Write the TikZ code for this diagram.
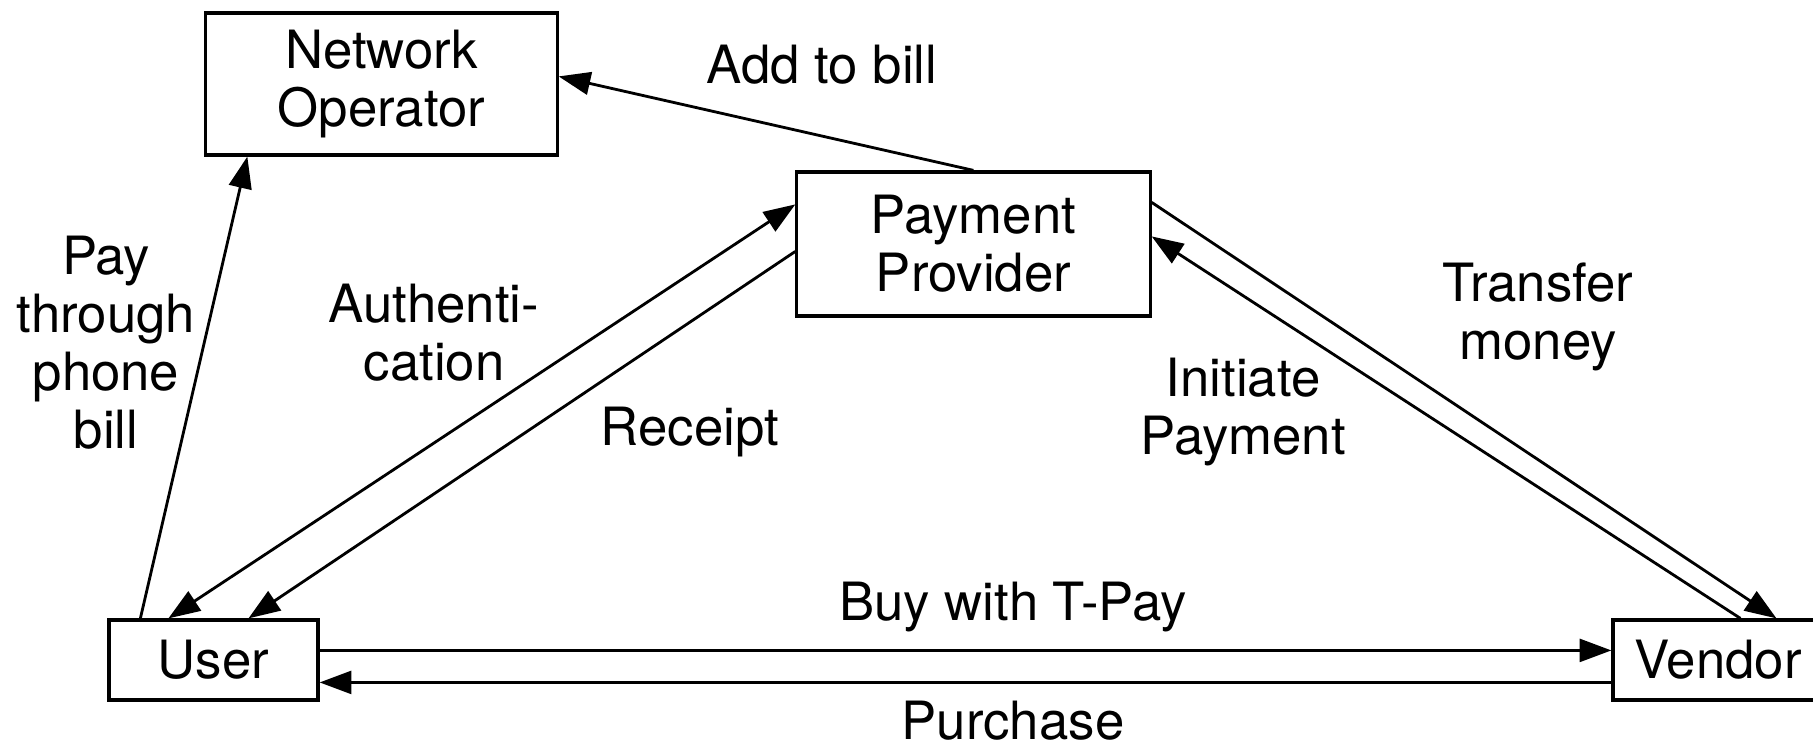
\documentclass[tikz,border=0pt]{standalone}
\usepackage{fontspec}
\setmainfont{TeX Gyre Heros}
\usetikzlibrary{arrows.meta}
\tikzset{%
  tipA/.tip={Triangle[length=9pt,width=6.5pt]},
  party/.style={draw, line width=0.9pt, inner sep=0pt, align=center},
  lbl/.style={align=center, inner sep=0pt}
}

\begin{document}
\begin{tikzpicture}[x=0.01cm,y=-0.01cm,font=\fontsize{15}{16.5}\selectfont]
\useasboundingbox (0,0) rectangle (1813,746);
\node[party, minimum width=3.51cm, minimum height=1.42cm] (oper) at (381.5,84) {Network\\Operator};
\node[party, minimum width=3.53cm, minimum height=1.44cm] (prov) at (973.5,244) {Payment\\Provider};
\node[party, minimum width=2.09cm, minimum height=0.8cm] (user) at (213.5,660) {User};
\node[party, minimum width=2.10cm, minimum height=0.8cm] (vend) at (1718,660) {Vendor};
\begin{scope}[line width=0.8pt]
\draw [-tipA] ([xshift=0.33cm]user.north west) -- ([xshift=0.43cm]oper.south west);
\draw [tipA-tipA] ([xshift=0.61cm]user.north west) -- ([yshift=-0.34cm]prov.north west);
\draw [-tipA] ([yshift=-0.81cm]prov.north west) -- ([xshift=1.41cm]user.north west);
\draw [-tipA] ([yshift=-0.32cm]prov.north east) -- ([xshift=1.65cm]vend.north west);
\draw [-tipA] ([xshift=1.29cm]vend.north west) -- ([yshift=-0.66cm]prov.north east);
\draw [-tipA] ([xshift=1.78cm]prov.north west) -- ([yshift=-0.65cm]oper.north east);
\draw [-tipA] ([yshift=-0.32cm]user.north east) -- ([yshift=-0.32cm]vend.north west);
\draw [-tipA] ([yshift=-0.64cm]vend.north west) -- ([yshift=-0.64cm]user.north east);
\end{scope}
\node[lbl] (addbill) at (822,65) {Add to bill};
\node[lbl] (paybill) at (106,343) {Pay\\through\\phone\\bill};
\node[lbl] (auth) at (434,333) {Authenti-\\cation};
\node[lbl] (receipt) at (690,432) {Receipt};
\node[lbl] (initiate) at (1243,412) {Initiate\\Payment};
\node[lbl] (transfer) at (1538,317) {Transfer\\money};
\node[lbl] (buy) at (1013,607) {Buy with T-Pay};
\node[lbl] (purchase) at (1013,721) {Purchase};
\end{tikzpicture}
\end{document}
